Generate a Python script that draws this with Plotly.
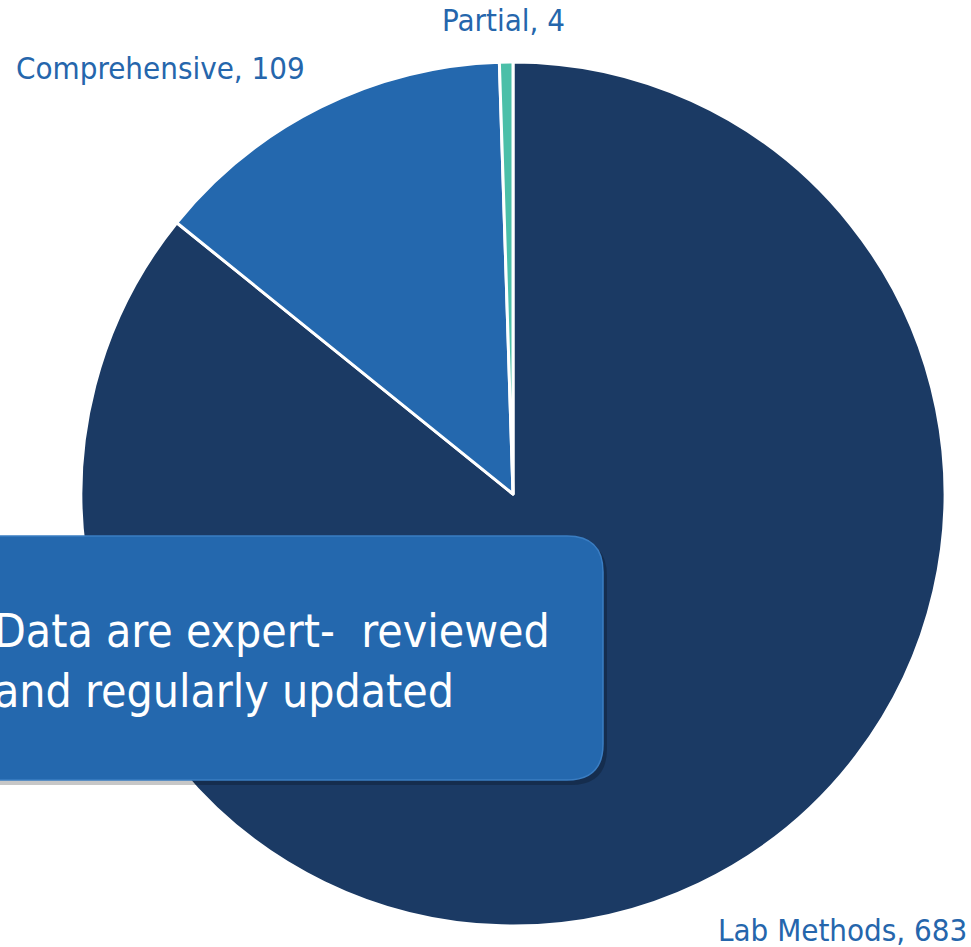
import plotly.graph_objects as go

categories = ["Lab Methods", "Comprehensive", "Partial"]
values = [683, 109, 4]
colors = ["#1B3A64", "#2468AE", "#4BBFA8"]
box_lines = ["Data are expert-  reviewed", "and regularly updated"]

W, H = 971, 947
FONT = "DejaVu Sans Condensed, Tahoma, DejaVu Sans"

def px(x):
    return x / W

def py(y):
    return 1 - y / H

cx, cy, r = 513, 494, 432

fig = go.Figure(go.Pie(
    labels=categories, values=values, sort=False, direction="clockwise",
    rotation=0, textinfo="none", hoverinfo="label+value",
    marker=dict(colors=colors, line=dict(color="white", width=3)),
    domain=dict(x=[px(cx - r), px(cx + r)], y=[py(cy + r), py(cy - r)]),
    showlegend=False,
))

label_pos = {"Lab Methods": (842, 930), "Comprehensive": (160, 68), "Partial": (503, 20)}
annotations = []
for c, v in zip(categories, values):
    x, y = label_pos[c]
    annotations.append(dict(x=px(x), y=py(y), xref="paper", yref="paper",
                            text=f"{c}, {v}", showarrow=False,
                            xanchor="center", yanchor="middle",
                            font=dict(family=FONT, size=31, color="#2566AC")))

def rounded(x0, y0, x1, y1, rad):
    X = lambda v: f"{px(v):.5f}"
    Y = lambda v: f"{py(v):.5f}"
    return (f"M {X(x0)},{Y(y0)} L {X(x1-rad)},{Y(y0)} Q {X(x1)},{Y(y0)} {X(x1)},{Y(y0+rad)} "
            f"L {X(x1)},{Y(y1-rad)} Q {X(x1)},{Y(y1)} {X(x1-rad)},{Y(y1)} "
            f"L {X(x0)},{Y(y1)} Z")

shapes = [
    dict(type="path", xref="paper", yref="paper", path=rounded(-30, 540, 607, 785, 36),
         fillcolor="rgba(0,0,0,0.22)", line=dict(width=0)),
    dict(type="path", xref="paper", yref="paper", path=rounded(-30, 536, 603, 780, 36),
         fillcolor="#2468AE", line=dict(color="#3A7DC2", width=1.5)),
]

annotations.append(dict(x=px(-8), y=py(661), xref="paper", yref="paper",
                        text="<br>".join(box_lines), showarrow=False, align="left",
                        xanchor="left", yanchor="middle",
                        font=dict(family=FONT, size=46, color="white")))

fig.update_layout(width=W, height=H, margin=dict(l=0, r=0, t=0, b=0),
                  paper_bgcolor="white", plot_bgcolor="white",
                  shapes=shapes, annotations=annotations)

fig.write_html("out.html", config={"displayModeBar": False},
               post_script="document.body.style.margin='0';document.body.style.overflow='hidden';")
